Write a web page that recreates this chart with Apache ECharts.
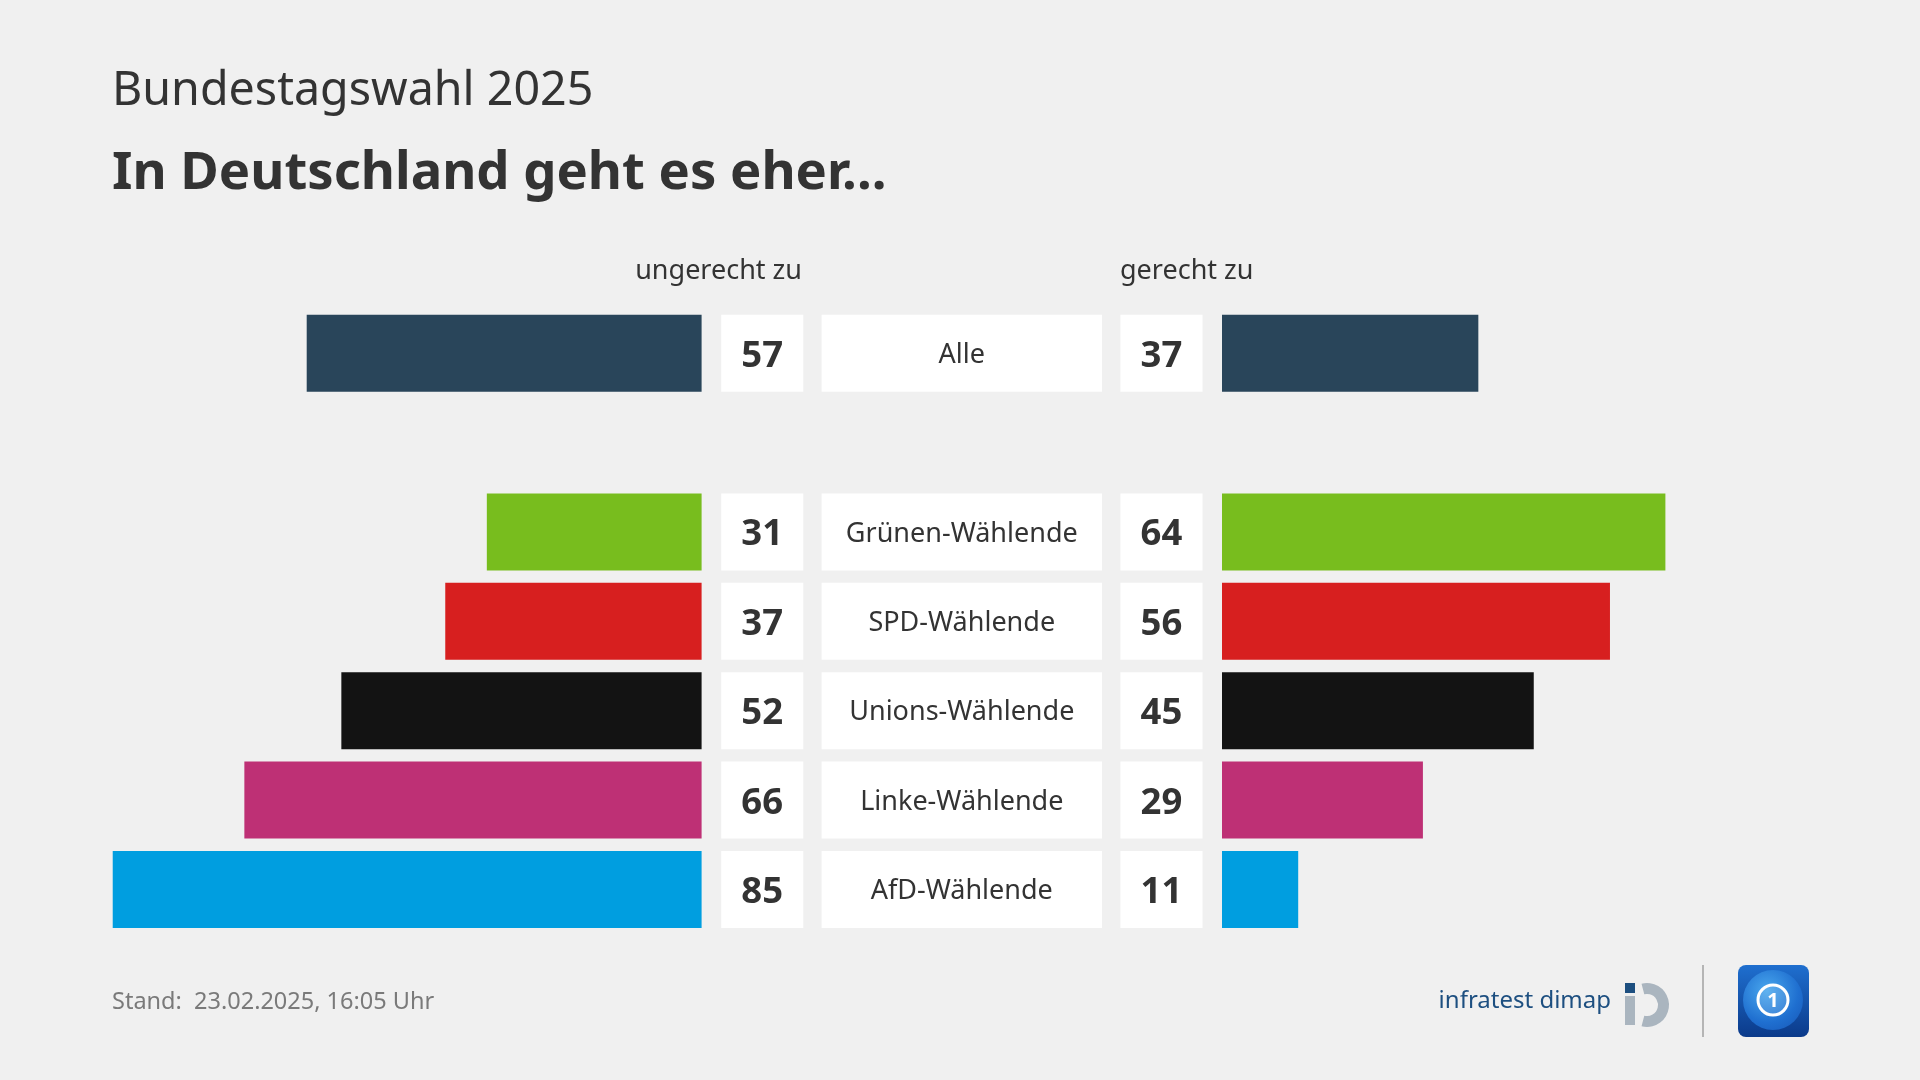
<!DOCTYPE html>
<html>
<head>
<meta charset="utf-8">
<script src="https://cdn.jsdelivr.net/npm/echarts@6/dist/echarts.min.js"></script>
<style>
html,body{margin:0;padding:0;background:#f0f0f0;}
#c{width:1920px;height:1080px;}
</style>
</head>
<body>
<div id="c"></div>
<script>
// ---- data ----
const categories = ['Alle', '', 'Grünen-Wählende', 'SPD-Wählende', 'Unions-Wählende', 'Linke-Wählende', 'AfD-Wählende'];
const ungerecht = [57, null, 31, 37, 52, 66, 85];
const gerecht = [37, null, 64, 56, 45, 29, 11];
const leftHeader = 'ungerecht zu';
const rightHeader = 'gerecht zu';
const subtitleText = 'Bundestagswahl 2025';
const titleText = 'In Deutschland geht es eher...';
const footerText = 'Stand:  23.02.2025, 16:05 Uhr';

// ---- styles ----
const barColors = ['#29455a', null, '#78bd1e', '#d71f1f', '#131313', '#be3075', '#009ee0'];
const FONT = '"Noto Sans", sans-serif';
const TXT = '#333333';

const chart = echarts.init(document.getElementById('c'), null, {renderer: 'canvas'});

const gridTop = 308.5, gridHeight = 625.7;
const grids = [
  {left: 8.8, width: 692.8, top: gridTop, height: gridHeight},     // left bars
  {left: 721.2, width: 82.1, top: gridTop, height: gridHeight},    // left numbers
  {left: 821.6, width: 280.4, top: gridTop, height: gridHeight},   // labels
  {left: 1120.4, width: 82.1, top: gridTop, height: gridHeight},   // right numbers
  {left: 1222, width: 692.8, top: gridTop, height: gridHeight}     // right bars
];

const xAxes = grids.map((g, i) => ({
  gridIndex: i, type: 'value', min: 0, max: (i === 0 || i === 4) ? 100 : 1,
  inverse: i === 0, show: false
}));
const yAxes = grids.map((g, i) => ({
  gridIndex: i, type: 'category', data: categories, inverse: true, show: false
}));

function barData(arr) {
  return arr.map((v, i) => v == null ? '-' : {value: v, itemStyle: {color: barColors[i]}});
}
function boxData(arr) {
  return arr.map(v => v == null ? '-' : 1);
}
const boxStyle = {color: '#ffffff'};

const series = [
  {type: 'bar', xAxisIndex: 0, yAxisIndex: 0, barWidth: 77, data: barData(ungerecht), silent: true},
  {type: 'bar', xAxisIndex: 1, yAxisIndex: 1, barWidth: 77, data: boxData(ungerecht), itemStyle: boxStyle, silent: true,
    label: {show: true, position: 'inside', offset: [0, 3], formatter: p => String(ungerecht[p.dataIndex]),
      fontFamily: FONT, fontWeight: 'bold', fontSize: 36.5, color: TXT}},
  {type: 'bar', xAxisIndex: 2, yAxisIndex: 2, barWidth: 77, data: boxData(ungerecht), itemStyle: boxStyle, silent: true,
    label: {show: true, position: 'inside', offset: [0, 2], formatter: p => categories[p.dataIndex],
      fontFamily: FONT, fontSize: 27, color: TXT}},
  {type: 'bar', xAxisIndex: 3, yAxisIndex: 3, barWidth: 77, data: boxData(gerecht), itemStyle: boxStyle, silent: true,
    label: {show: true, position: 'inside', offset: [0, 3], formatter: p => String(gerecht[p.dataIndex]),
      fontFamily: FONT, fontWeight: 'bold', fontSize: 36.5, color: TXT}},
  {type: 'bar', xAxisIndex: 4, yAxisIndex: 4, barWidth: 77, data: barData(gerecht), silent: true}
];

chart.setOption({
  backgroundColor: '#f0f0f0',
  animation: false,
  grid: grids,
  xAxis: xAxes,
  yAxis: yAxes,
  series: series,
  graphic: {elements: [
    {type: 'text', x: 112, y: 92, style: {text: subtitleText, font: 'normal 46.6px ' + FONT, fill: '#333333', verticalAlign: 'middle', align: 'left'}},
    {type: 'text', x: 112, y: 174, style: {text: titleText, font: 'bold 52.6px ' + FONT, fill: '#333333', verticalAlign: 'middle', align: 'left'}},
    {type: 'text', x: 802, y: 271.5, style: {text: leftHeader, font: 'normal 27px ' + FONT, fill: '#333333', verticalAlign: 'middle', align: 'right'}},
    {type: 'text', x: 1120, y: 271.5, style: {text: rightHeader, font: 'normal 27px ' + FONT, fill: '#333333', verticalAlign: 'middle', align: 'left'}},
    {type: 'text', x: 112, y: 1002.5, style: {text: footerText, font: 'normal 23.5px ' + FONT, fill: '#7a7a7a', verticalAlign: 'middle', align: 'left'}},
    // infratest dimap logo
    {type: 'text', x: 1611, y: 1001.5, style: {text: 'infratest dimap', font: 'normal 24px ' + FONT, fill: '#1d4f80', verticalAlign: 'middle', align: 'right'}},
    {type: 'rect', shape: {x: 1625, y: 983, width: 10, height: 10}, style: {fill: '#1d4f80'}},
    {type: 'rect', shape: {x: 1625, y: 996, width: 10, height: 29}, style: {fill: '#aab5bf'}},
    {type: 'sector', shape: {cx: 1647, cy: 1005, r: 22, r0: 11, startAngle: -Math.PI * 0.58, endAngle: Math.PI * 0.58, clockwise: true}, style: {fill: '#aab5bf'}},
    // separator
    {type: 'line', shape: {x1: 1703, y1: 965, x2: 1703, y2: 1037}, style: {stroke: '#b5b5b5', lineWidth: 2}},
    // tagesschau logo
    {type: 'rect', shape: {x: 1738, y: 965, width: 71, height: 72, r: 8},
      style: {fill: new echarts.graphic.LinearGradient(0, 0, 0, 1, [{offset: 0, color: '#1f6fcf'}, {offset: 1, color: '#0b3a8a'}])}},
    {type: 'circle', shape: {cx: 1773, cy: 1000, r: 30},
      style: {fill: new echarts.graphic.RadialGradient(0.4, 0.35, 0.75, [{offset: 0, color: '#4aa8ee'}, {offset: 0.7, color: '#1f6fd0'}, {offset: 1, color: '#1a5fbf'}])}},
    {type: 'circle', shape: {cx: 1773, cy: 1000, r: 15}, style: {fill: 'rgba(255,255,255,0.12)', stroke: '#ffffff', lineWidth: 3}},
    {type: 'text', x: 1773, y: 1001, style: {text: '1', font: 'bold 20px ' + FONT, fill: '#ffffff', align: 'center', verticalAlign: 'middle'}}
  ]}
});
</script>
</body>
</html>
